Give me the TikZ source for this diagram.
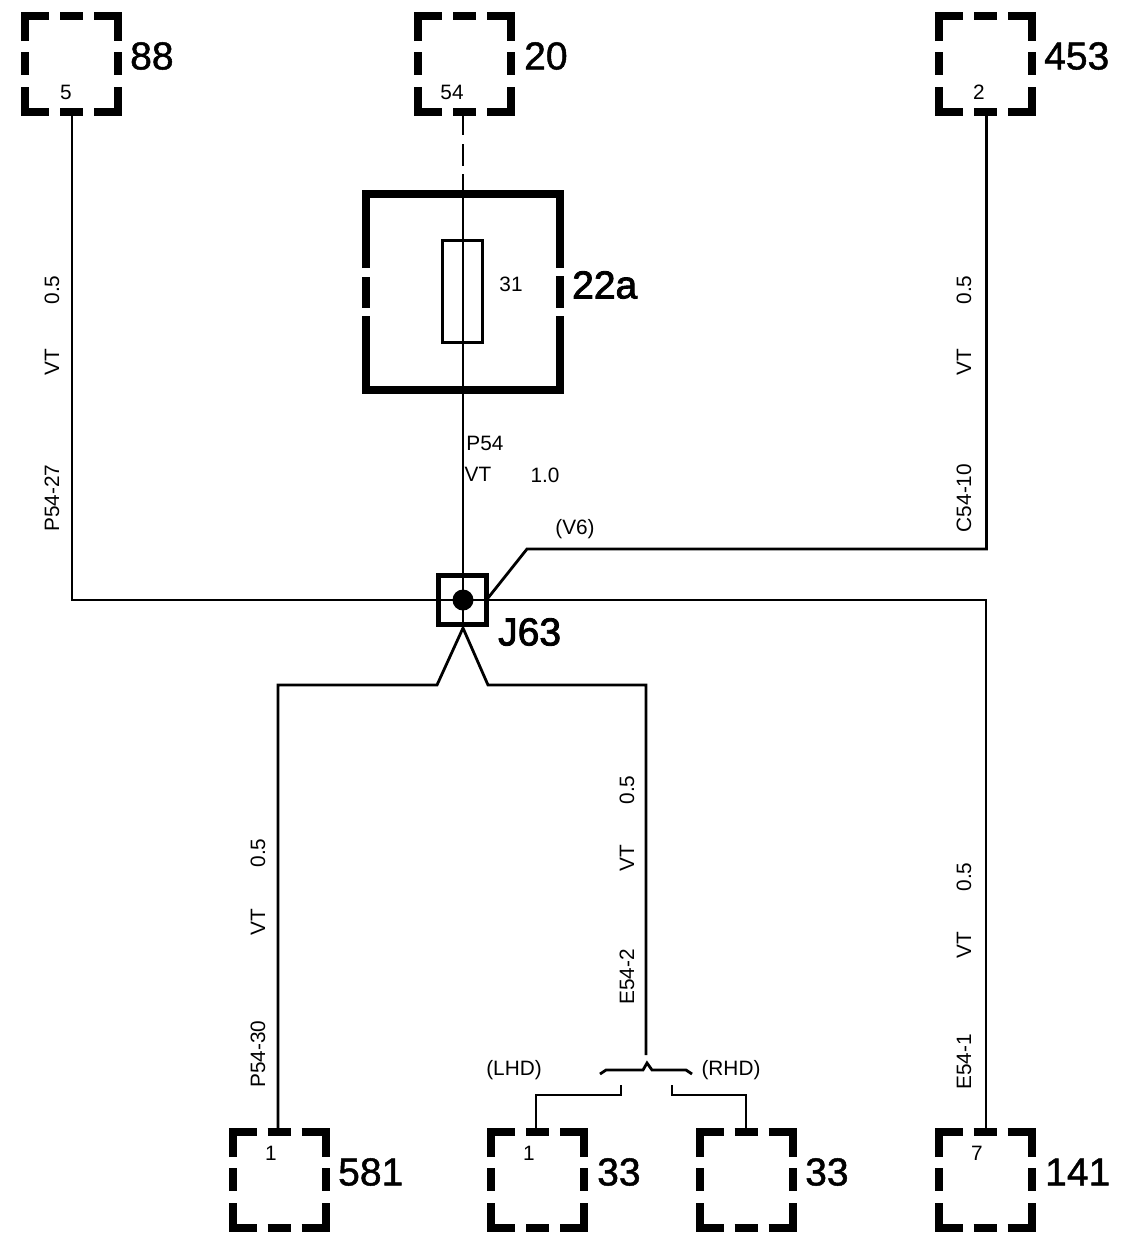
\documentclass[tikz,border=0pt]{standalone}
\usepackage{fontspec}
\setmainfont{Liberation Sans}
\newfontfamily\bigface[FakeBold=1.2]{Liberation Sans}
\newfontfamily\bolderface[FakeBold=2.2]{Liberation Sans}
\usetikzlibrary{calc}
\tikzset{
  x=1pt,y=-1pt,
  boxanchor/.style={inner sep=0,outer sep=0,minimum width=93pt,minimum height=96pt,draw=none},
  heavy/.style={line width=8pt,line cap=butt,line join=miter,black},
  wire/.style={line width=2.8pt,line join=miter,black},
  small/.style={font=\fontsize{20.8}{21}\selectfont,inner sep=0},
  side/.style={small,rotate=90},
  big/.style={font=\bigface\fontsize{39}{39}\selectfont,inner sep=0,anchor=west,text=black},
  bigger/.style={big,font=\bolderface\fontsize{39}{39}\selectfont},
}
\newcommand{\pinbox}[3]{%
  \node[boxanchor] (#1) at (#2,#3) {};
  \begin{scope}[shift={(#2,#3)}]
    \draw[heavy] (-46.5,-23)--(-46.5,-48)--(-22.5,-48);
    \draw[heavy] (22.5,-48)--(46.5,-48)--(46.5,-23);
    \draw[heavy] (-46.5,23)--(-46.5,48)--(-22.5,48);
    \draw[heavy] (22.5,48)--(46.5,48)--(46.5,23);
    \draw[heavy] (-11.5,-48)--(11.5,-48);
    \draw[heavy] (-11.5,48)--(11.5,48);
    \draw[heavy] (-46.5,-12)--(-46.5,11);
    \draw[heavy] (46.5,-12)--(46.5,11);
  \end{scope}}
\begin{document}
\begin{tikzpicture}
\useasboundingbox (0,0) rectangle (1132,1248);
% connector boxes
\pinbox{cA}{71.5}{64}
\pinbox{cB}{464.5}{64}
\pinbox{cC}{985.5}{64}
\pinbox{cD}{279}{1180}
\pinbox{cE}{537.5}{1180}
\pinbox{cF}{746}{1180}
\pinbox{cG}{985}{1180}
% fuse box
\node[inner sep=0,outer sep=0,minimum width=194pt,minimum height=196pt] (fb) at (463,292) {};
\draw[heavy] (366,268)--(366,194)--(560,194)--(560,268);
\draw[heavy] (366,316)--(366,390)--(560,390)--(560,316);
\draw[heavy] (366,277)--(366,308);
\draw[heavy] (560,276)--(560,308);
\node[draw,line width=2.4pt,inner sep=0,minimum width=40pt,minimum height=102pt] (fuse) at (462.5,291.5) {};
% junction
\node[draw,line width=5pt,inner sep=0,minimum width=48pt,minimum height=49pt] (j) at (462,599.5) {};
\fill (463,600) circle (10.5);
\coordinate (jc) at (463,600);
\coordinate (jb) at (463,628);
% wires
\coordinate (w1) at (72,600);
\coordinate (w2) at (986,600);
\coordinate (v1) at (527,549);
\coordinate (v2) at (986.5,549);
\coordinate (jr) at (488,598);
\draw[wire] (w1 |- cA.south) -- (w1) -- (w2) -- (w2 |- cG.north);
\draw[wire] (v2 |- cC.south) -- (v2) -- (v1) -- (jr);
\coordinate (d0) at (463,116);
\coordinate (d1) at (463,135);
\coordinate (d2) at (463,144);
\coordinate (d3) at (463,166);
\coordinate (d4) at (463,174);
\draw[line width=2.2pt] (d0) -- (d1);
\draw[line width=2.2pt] (d2) -- (d3);
\draw[wire] (d4) -- (jc);
\draw[wire] (jc) -- (jb);
\coordinate (l1) at (437,685);
\coordinate (l2) at (278,685);
\coordinate (r1) at (488,685);
\coordinate (r2) at (646,685);
\coordinate (r3) at (646,1055);
\draw[wire] (jb) -- (l1) -- (l2) -- (l2 |- cD.north);
\draw[wire] (jb) -- (r1) -- (r2) -- (r3);
% brace
\coordinate (b1) at (600,1074);
\coordinate (b2) at (606,1070);
\coordinate (b3) at (643,1070);
\coordinate (b4) at (647,1063);
\coordinate (b5) at (652,1070);
\coordinate (b6) at (686,1070);
\coordinate (b7) at (692,1074);
\draw[wire] (b1)--(b2)--(b3)--(b4)--(b5)--(b6)--(b7);
\coordinate (e1) at (621,1085);
\coordinate (e2) at (621,1095);
\coordinate (e3) at (536,1095);
\coordinate (f1) at (672,1085);
\coordinate (f2) at (672,1095);
\coordinate (f3) at (746,1095);
\draw[wire] (e1)--(e2)--(e3)--(e3 |- cE.north);
\draw[wire] (f1)--(f2)--(f3)--(f3 |- cF.north);
% big labels
\node[big] (t88) at (130,56) {88};
\node[big] (t20) at (524,56) {20};
\node[big] (t453) at (1044,56) {453};
\node[bigger] (t22a) at (572,285) {22a};
\node[bigger] (tJ) at (498,632) {J63};
\node[big] (t581) at (338,1172) {581};
\node[big] (t33a) at (597,1172) {33};
\node[big] (t33b) at (805,1172) {33};
\node[big] (t141) at (1045,1172) {141};
% pin and small labels
\node[small] (p5) at (66,92) {5};
\node[small] (p54) at (452,92) {54};
\node[small] (p2) at (979,92) {2};
\node[small] (p1a) at (271,1153) {1};
\node[small] (p1b) at (529,1153) {1};
\node[small] (p7) at (977,1153) {7};
\node[small] (p31) at (511,284) {31};
\node[small] (tP54) at (485,443) {P54};
\node[small] (tVT) at (478,474) {VT};
\node[small] (t10) at (545,475) {1.0};
\node[small] (tV6) at (575,529) {(V6)};
\node[small] (tL) at (514,1070) {(LHD)};
\node[small] (tR) at (731,1070) {(RHD)};
% rotated wire labels
\node[side] (a1) at (52,290) {0.5};
\node[side] (a2) at (52,362) {VT};
\node[side] (a3) at (52,498) {P54-27};
\node[side] (b1t) at (964,290) {0.5};
\node[side] (b2t) at (964,362) {VT};
\node[side] (b3t) at (964,498) {C54-10};
\node[side] (c1) at (258,853) {0.5};
\node[side] (c2) at (258,922) {VT};
\node[side] (c3) at (258,1054) {P54-30};
\node[side] (d1t) at (627,790) {0.5};
\node[side] (d2t) at (627,858) {VT};
\node[side] (d3t) at (627,977) {E54-2};
\node[side] (e1t) at (964,877) {0.5};
\node[side] (e2t) at (964,945) {VT};
\node[side] (e3t) at (964,1062) {E54-1};
\end{tikzpicture}
\end{document}
